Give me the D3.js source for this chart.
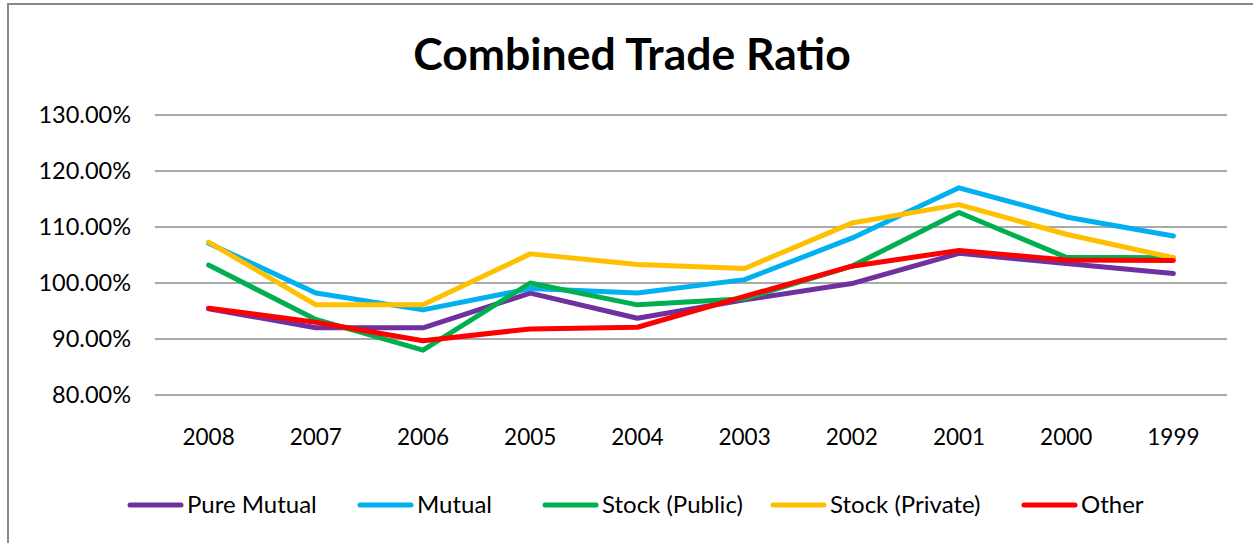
<!DOCTYPE html>
<html>
<head>
<meta charset="utf-8">
<script src="https://cdn.jsdelivr.net/npm/d3@7"></script>
<style>
  body { margin: 0; background: #fff; }
  svg { display: block; font-family: Lato, "Open Sans", sans-serif; }
</style>
</head>
<body>
<script>
var years = ["2008", "2007", "2006", "2005", "2004", "2003", "2002", "2001", "2000", "1999"];
var seriesNames = ["Pure Mutual", "Mutual", "Stock (Public)", "Stock (Private)", "Other"];
var seriesColors = ["#7030a0", "#00b0f0", "#00b050", "#ffc000", "#ff0000"];
var pureMutual = [95.4, 92.0, 92.0, 98.2, 93.7, 97.0, 99.9, 105.3, 103.5, 101.7];
var mutual = [107.1, 98.2, 95.2, 99.0, 98.2, 100.6, 108.0, 117.0, 111.8, 108.4];
var stockPublic = [103.2, 93.5, 88.0, 100.0, 96.1, 97.2, 103.0, 112.6, 104.6, 104.5];
var stockPrivate = [107.3, 96.1, 96.1, 105.2, 103.3, 102.6, 110.7, 114.0, 108.7, 104.5];
var other = [95.5, 93.0, 89.7, 91.8, 92.1, 97.6, 103.0, 105.8, 104.1, 104.0];
var yTicks = [80, 90, 100, 110, 120, 130];

var allSeries = [pureMutual, mutual, stockPublic, stockPrivate, other];

var width = 1253, height = 543;
var plotLeft = 155, plotRight = 1227, plotTop = 115, plotBottom = 395;

var svg = d3.select("body").append("svg")
  .attr("width", width)
  .attr("height", height);

// chart frame
svg.append("rect")
  .attr("x", 8).attr("y", 4)
  .attr("width", 1260).attr("height", 560)
  .attr("fill", "#fff")
  .attr("stroke", "#888").attr("stroke-width", 2);

var x = d3.scalePoint().domain(years).range([plotLeft, plotRight]).padding(0.5);
var y = d3.scaleLinear().domain([80, 130]).range([plotBottom, plotTop]);

// gridlines
svg.append("g").selectAll("line").data(yTicks).enter().append("line")
  .attr("x1", plotLeft).attr("x2", plotRight)
  .attr("y1", function(d){ return y(d); })
  .attr("y2", function(d){ return y(d); })
  .attr("stroke", "#8c8c8c").attr("stroke-width", 1.5);

// y labels
svg.append("g").selectAll("text").data(yTicks).enter().append("text")
  .attr("x", 131)
  .attr("y", function(d){ return y(d); })
  .attr("dy", "0.35em")
  .attr("text-anchor", "end")
  .attr("font-size", 23.5)
  .attr("fill", "#000")
  .text(function(d){ return d.toFixed(2) + "%"; });

// x labels
svg.append("g").selectAll("text").data(years).enter().append("text")
  .attr("x", function(d){ return x(d); })
  .attr("y", 437)
  .attr("dy", "0.35em")
  .attr("text-anchor", "middle")
  .attr("font-size", 22.5)
  .attr("fill", "#000")
  .text(function(d){ return d; });

var line = d3.line()
  .x(function(d, i){ return x(years[i]); })
  .y(function(d){ return y(d); });

svg.append("g").selectAll("path").data(allSeries).enter().append("path")
  .attr("d", line)
  .attr("fill", "none")
  .attr("stroke", function(d, i){ return seriesColors[i]; })
  .attr("stroke-width", 5)
  .attr("stroke-linejoin", "round")
  .attr("stroke-linecap", "round");

// title
svg.append("text")
  .attr("x", 632).attr("y", 70)
  .attr("text-anchor", "middle")
  .attr("font-size", 44.5)
  .attr("font-weight", "bold")
  .text("Combined Trade Ratio");

// legend
var legendX = [128, 358, 543, 771, 1022];
var legend = svg.append("g").selectAll("g").data(seriesNames).enter().append("g")
  .attr("transform", function(d, i){ return "translate(" + legendX[i] + ",505)"; });

legend.append("line")
  .attr("x1", 2).attr("x2", 53)
  .attr("stroke", function(d, i){ return seriesColors[i]; })
  .attr("stroke-width", 5)
  .attr("stroke-linecap", "round");

legend.append("text")
  .attr("x", 59)
  .attr("dy", "0.35em")
  .attr("font-size", 24)
  .text(function(d){ return d; });
</script>
</body>
</html>
